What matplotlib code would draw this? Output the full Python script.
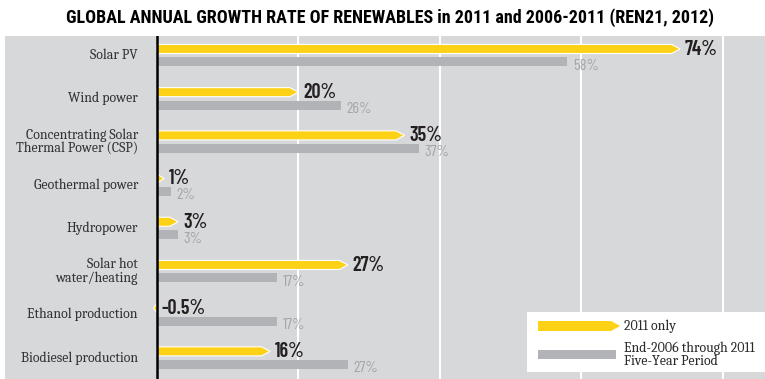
import matplotlib
matplotlib.use("Agg")
import matplotlib.pyplot as plt
from matplotlib.patches import Polygon, Rectangle

# growth rates, percent
categories = ["Solar PV", "Wind power", "Concentrating Solar\nThermal Power (CSP)",
              "Geothermal power", "Hydropower", "Solar hot\nwater/heating",
              "Ethanol production", "Biodiesel production"]
growth_2011 = [74, 20, 35, 1, 3, 27, -0.5, 16]
growth_5yr = [58, 26, 37, 2, 3, 17, 17, 27]
labels_2011 = ["74%", "20%", "35%", "1%", "3%", "27%", "-0.5%", "16%"]
labels_5yr = ["58%", "26%", "37%", "2%", "3%", "17%", "17%", "27%"]
grid_ticks = [20, 40, 60, 80]

BG = "#D6D8DA"
YELLOW = "#FCD116"
GREY_BAR = "#B1B3B6"
GREY_TXT = "#A3A5A8"
DARK = "#231F20"
COND = ["Barlow Condensed", "Roboto Condensed", "Liberation Sans Narrow", "DejaVu Sans"]
NARROW = ["Roboto Condensed", "PT Sans Narrow", "Liberation Sans Narrow", "DejaVu Sans"]
SERIF = ["Caladea", "Charis SIL", "Liberation Serif", "DejaVu Serif"]

W, H = 765, 379


def arrow_bar(ax, v, yc, h, tip=1.2, **kw):
    s = 1 if v >= 0 else -1
    body = v - s * min(tip, abs(v))
    pts = [(0, yc - h / 2), (body, yc - h / 2), (v, yc),
           (body, yc + h / 2), (0, yc + h / 2)]
    ax.add_patch(Polygon(pts, closed=True, **kw))


fig = plt.figure(figsize=(W / 100, H / 100), dpi=100)
fig.patch.set_facecolor("white")
ax = fig.add_axes([5 / W, 0, 760 / W, 343 / H])
ax.set_facecolor(BG)
ax.set_xlim(-21.5, 86)
ax.set_ylim(7.49, -0.45)
for sp in ax.spines.values():
    sp.set_visible(False)
ax.set_xticks([])
ax.set_yticks([])

for g in grid_ticks:
    ax.axvline(g, color="white", lw=1.5, zorder=1)
ax.axvline(0, color="black", lw=1.8, zorder=4)

off = 0.15
for i, cat in enumerate(categories):
    y1, y2 = i - off, i + off
    arrow_bar(ax, growth_2011[i], y1, 0.21, facecolor=YELLOW,
              edgecolor="white", lw=0.8, zorder=3)
    ax.barh(y2, growth_5yr[i], height=0.21, color=GREY_BAR, zorder=2)
    ax.text(max(growth_2011[i], 0) + 0.7, y1 + 0.01, labels_2011[i],
            ha="left", va="center", fontsize=14.5, fontweight="semibold",
            family=COND, color=DARK, zorder=5)
    ax.text(growth_5yr[i] + 0.8, y2 + 0.09, labels_5yr[i], ha="left",
            va="center", fontsize=11.5, family=COND, color=GREY_TXT,
            zorder=5)
    ax.text(-2.7, i, cat, ha="right", va="center", fontsize=10,
            family=SERIF, color="#333333", linespacing=1.0)

# legend box
def px(x, y):
    return x / W, 1 - y / H

lx, ly = px(527, 372)
fig.patches.append(Rectangle((lx, ly), (765 - 527) / W, 60 / H,
                             transform=fig.transFigure, facecolor="white",
                             edgecolor="none", zorder=6))
yc = 326
fig.patches.append(Polygon([px(538, yc - 5), px(611, yc - 5), px(620, yc),
                            px(611, yc + 5), px(538, yc + 5)],
                           transform=fig.transFigure, facecolor=YELLOW,
                           edgecolor="none", zorder=7))
fig.patches.append(Rectangle(px(538, 359), 78 / W, 9 / H,
                             transform=fig.transFigure, facecolor=GREY_BAR,
                             edgecolor="none", zorder=7))
fig.text(*px(624, 326), "2011 only", ha="left", va="center", fontsize=10,
         family=SERIF, color="#2A2A2A", zorder=8)
fig.text(*px(624, 355), "End-2006 through 2011\nFive-Year Period", ha="left",
         va="center", fontsize=10, family=SERIF, color="#2A2A2A",
         linespacing=0.95, zorder=8)

fig.text(*px(390, 18), "GLOBAL ANNUAL GROWTH RATE OF RENEWABLES in 2011 and 2006-2011 (REN21, 2012)",
         ha="center", va="center", fontsize=13, fontweight="bold",
         family=NARROW, color="black")

fig.savefig("out.png", dpi=100)
